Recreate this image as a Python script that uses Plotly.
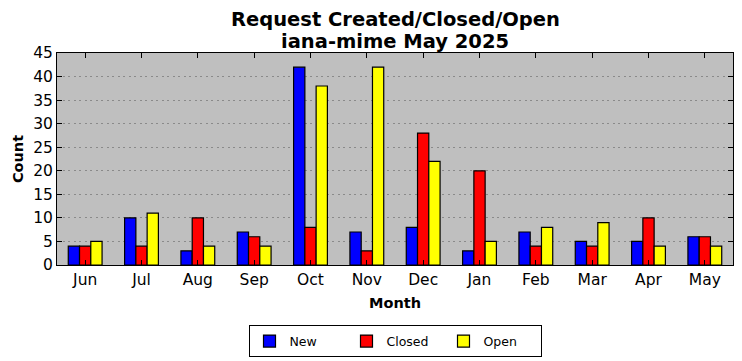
import plotly.graph_objects as go

months = ["Jun", "Jul", "Aug", "Sep", "Oct", "Nov", "Dec", "Jan", "Feb", "Mar", "Apr", "May"]
new_vals = [4, 10, 3, 7, 42, 7, 8, 3, 7, 5, 5, 6]
closed_vals = [4, 4, 10, 6, 8, 3, 28, 20, 4, 4, 10, 6]
open_vals = [5, 11, 4, 4, 38, 42, 22, 5, 8, 9, 4, 4]

series = [("New", new_vals, "#0000ff"), ("Closed", closed_vals, "#ff0000"), ("Open", open_vals, "#ffff00")]

fig = go.Figure()
for name, vals, col in series:
    fig.add_trace(go.Bar(x=months, y=vals, name=name,
                         marker=dict(color=col, line=dict(color="black", width=1.2))))

font = "DejaVu Sans"
fig.update_layout(
    width=742, height=361,
    margin=dict(l=57, r=9, t=53, b=96, autoexpand=False),
    paper_bgcolor="white", plot_bgcolor="#bfbfbf",
    font=dict(family=font, size=12, color="black"),
    title=dict(text="<b>Request Created/Closed/Open</b>",
               x=0.533, xanchor="center", yref="container", y=1 - 19 / 361, yanchor="middle",
               font=dict(size=19.5, family=font)),
    annotations=[dict(text="<b>iana-mime May 2025</b>", xref="paper", yref="paper",
                      x=0.5, y=1 + (53 - 41) / 212, xanchor="center", yanchor="middle",
                      showarrow=False, font=dict(size=19.5, family=font))],
    barmode="group", bargap=0.4, bargroupgap=0,
    showlegend=True,
    legend=dict(orientation="h", x=0.5, xanchor="center", y=-0.285, yanchor="top",
                bordercolor="black", borderwidth=1, font=dict(size=12.5, family=font),
                itemwidth=30, entrywidth=52, traceorder="normal", tracegroupgap=0),
)
fig.update_xaxes(
    type="category", range=[-0.5, 11.5], automargin=False,
    showline=True, linecolor="black", linewidth=1, mirror="ticks",
    ticks="inside", ticklen=5, tickcolor="black",
    tickfont=dict(size=15.5, family=font),
    title=dict(text="<b>Month</b>", font=dict(size=14.5, family=font), standoff=10),
    showgrid=False,
)
fig.update_yaxes(
    range=[0, 45], dtick=5, automargin=False,
    showline=True, linecolor="black", linewidth=1, mirror="ticks",
    ticks="inside", ticklen=5, tickcolor="black",
    tickfont=dict(size=15.5, family=font),
    title=dict(text="<b>Count</b>", font=dict(size=14.5, family=font), standoff=6),
    showgrid=True, gridcolor="#8a8a8a", griddash="2px,3.5px", gridwidth=1,
    zeroline=False,
)
fig.write_html("out.html", config={"displayModeBar": False},
               post_script="document.body.style.margin='0';document.body.style.overflow='hidden';")
